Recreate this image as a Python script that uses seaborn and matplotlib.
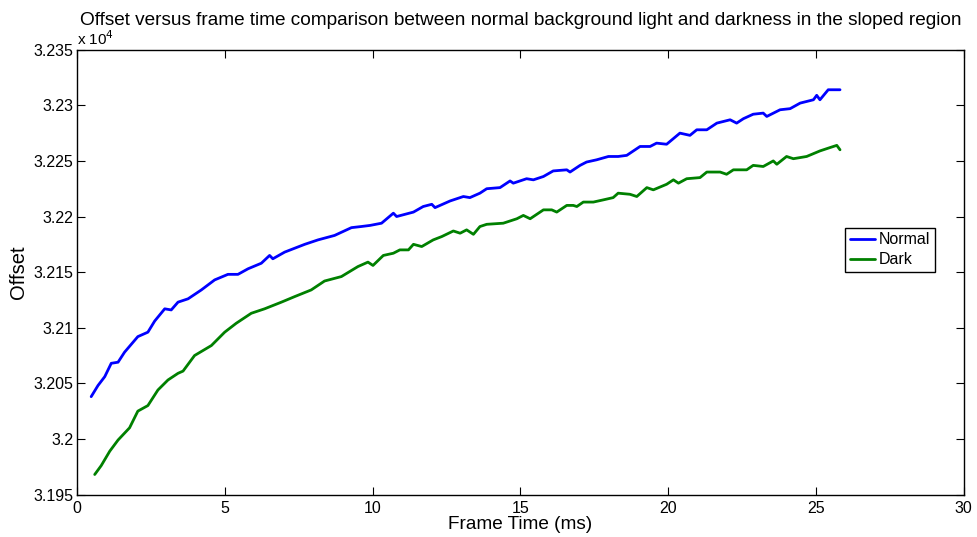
import numpy as np
import pandas as pd
import seaborn as sns
import matplotlib
matplotlib.use('Agg')
import matplotlib.pyplot as plt
from matplotlib.ticker import FuncFormatter, MultipleLocator

# values (frame time in ms, offset in counts)
normal_time = [0.47, 0.70, 0.93, 1.15, 1.38, 1.60, 2.05, 2.39, 2.62, 2.96, 3.18, 3.41,
               3.75, 4.20, 4.65, 5.10, 5.44, 5.78, 6.23, 6.51, 6.62, 7.02, 7.70, 8.15,
               8.71, 9.28, 9.61, 9.91, 10.30, 10.70, 10.81, 11.38, 11.71, 12.00, 12.11,
               12.62, 13.07, 13.29, 13.63, 13.86, 14.31, 14.65, 14.76, 15.21, 15.44,
               15.78, 16.11, 16.57, 16.68, 17.02, 17.24, 17.58, 17.98, 18.31, 18.60,
               19.05, 19.39, 19.61, 19.95, 20.40, 20.74, 20.97, 21.31, 21.65, 22.10,
               22.32, 22.55, 22.88, 23.22, 23.34, 23.79, 24.13, 24.47, 24.92, 25.03,
               25.14, 25.42, 25.82]
normal_offset = [32038, 32048, 32056, 32068, 32069, 32078, 32092, 32096, 32106, 32117,
                 32116, 32123, 32126, 32134, 32143, 32148, 32148, 32153, 32158, 32165,
                 32162, 32168, 32175, 32179, 32183, 32190, 32191, 32192, 32194, 32203,
                 32200, 32204, 32209, 32211, 32208, 32214, 32218, 32217, 32221, 32225,
                 32226, 32232, 32230, 32234, 32233, 32236, 32241, 32242, 32240, 32246,
                 32249, 32251, 32254, 32254, 32255, 32263, 32263, 32266, 32265, 32275,
                 32273, 32278, 32278, 32284, 32287, 32284, 32288, 32292, 32293, 32290,
                 32296, 32297, 32302, 32305, 32309, 32305, 32314, 32314]

dark_time = [0.59, 0.81, 1.10, 1.38, 1.77, 2.05, 2.39, 2.73, 3.07, 3.41, 3.58, 3.97,
             4.54, 4.99, 5.38, 5.89, 6.34, 6.91, 7.36, 7.92, 8.37, 8.94, 9.50, 9.84,
             10.01, 10.36, 10.70, 10.92, 11.21, 11.38, 11.66, 12.05, 12.34, 12.73,
             12.96, 13.18, 13.41, 13.63, 13.86, 14.42, 14.88, 15.10, 15.33, 15.78,
             16.06, 16.23, 16.57, 16.79, 16.91, 17.13, 17.47, 17.81, 18.14, 18.31,
             18.71, 18.94, 19.28, 19.50, 19.95, 20.18, 20.35, 20.63, 21.08, 21.31,
             21.76, 21.98, 22.21, 22.66, 22.88, 23.22, 23.56, 23.68, 24.01, 24.24,
             24.69, 25.14, 25.48, 25.71, 25.82]
dark_offset = [31968, 31976, 31989, 31999, 32010, 32025, 32030, 32044, 32053, 32059,
               32061, 32075, 32084, 32096, 32104, 32113, 32117, 32123, 32128, 32134,
               32142, 32146, 32155, 32159, 32156, 32165, 32167, 32170, 32170, 32175,
               32173, 32179, 32182, 32187, 32185, 32188, 32184, 32191, 32193, 32194,
               32198, 32201, 32198, 32206, 32206, 32204, 32210, 32210, 32209, 32213,
               32213, 32215, 32217, 32221, 32220, 32218, 32226, 32224, 32229, 32233,
               32230, 32234, 32235, 32240, 32240, 32238, 32242, 32242, 32246, 32245,
               32250, 32247, 32254, 32252, 32254, 32259, 32262, 32264, 32260]

df = pd.concat([
    pd.DataFrame({'Frame Time (ms)': normal_time, 'Offset': normal_offset, 'Condition': 'Normal'}),
    pd.DataFrame({'Frame Time (ms)': dark_time, 'Offset': dark_offset, 'Condition': 'Dark'}),
])

sns.set_style('ticks')
plt.rcParams['font.family'] = ['Liberation Sans', 'DejaVu Sans']
plt.rcParams['text.color'] = 'black'
plt.rcParams['axes.labelcolor'] = 'black'
plt.rcParams['xtick.color'] = 'black'
plt.rcParams['ytick.color'] = 'black'

fig = plt.figure(figsize=(9.77, 5.37), dpi=100)
ax = fig.add_axes([0.0791, 0.0791, 0.9071, 0.8283])

sns.lineplot(data=df, x='Frame Time (ms)', y='Offset', hue='Condition',
             palette={'Normal': '#0000ff', 'Dark': '#008000'},
             estimator=None, sort=True, linewidth=2, ax=ax)

ax.set_xlim(0, 30)
ax.set_ylim(31950, 32350)
ax.xaxis.set_major_locator(MultipleLocator(5))
ax.yaxis.set_major_locator(MultipleLocator(50))
ax.yaxis.set_major_formatter(FuncFormatter(lambda v, p: f'{v / 1e4:g}'))
ax.tick_params(direction='in', length=6, width=0.8, top=True, right=True,
               labelsize=11.5, pad=3, colors='black')
ax.tick_params(axis='x', pad=5)
for s in ax.spines.values():
    s.set_linewidth(1.0)
    s.set_color('black')

ax.set_xlabel('Frame Time (ms)', fontsize=13.7, labelpad=0)
ax.set_ylabel('Offset', fontsize=14.5, labelpad=4)
ax.set_title('Offset versus frame time comparison between normal background light '
             'and darkness in the sloped region', fontsize=13.7, pad=18)
ax.text(0.0, 1.005, r'x 10$^4$', transform=ax.transAxes, fontsize=11,
        ha='left', va='bottom')

leg = ax.legend(loc='upper left', bbox_to_anchor=(0.866, 0.60), fontsize=11.5,
                frameon=True, fancybox=False, edgecolor='black', framealpha=1,
                handlelength=1.6, handletextpad=0.25, borderpad=0.3,
                labelspacing=0.3, borderaxespad=0)
leg.get_frame().set_linewidth(1.0)

fig.savefig('out.png', dpi=100)
